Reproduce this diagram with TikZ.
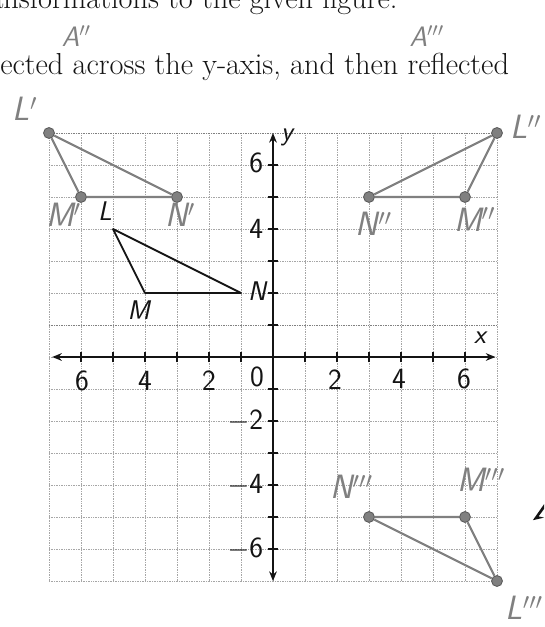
\documentclass[tikz,border=0pt]{standalone}
\usepackage{fontspec}
\usepackage{tikz}
\usetikzlibrary{arrows.meta}
\definecolor{Pencil}{HTML}{808080}
\definecolor{PencilDark}{HTML}{5C5C5C}
\definecolor{GridGrey}{HTML}{A6A6A6}
\definecolor{InkBlack}{HTML}{141414}

\begin{document}
\begin{tikzpicture}[
    gridline/.style={draw=GridGrey,line width=0.5pt,densely dotted},
    axis/.style={draw=InkBlack,line width=1.4pt,{Stealth[length=3mm,width=2.4mm]}-{Stealth[length=3mm,width=2.4mm]}},
    tickmark/.style={draw=InkBlack,line width=1.2pt},
    tri/.style={draw=InkBlack,line width=1.6pt,line join=round},
    pencil/.style={draw=Pencil,line width=1.9pt,line join=round},
    vdot/.style={circle,fill=Pencil,draw=PencilDark,line width=0.8pt,inner sep=0pt,minimum size=3.4mm},
    hand/.style={font=\fontsize{30}{30}\selectfont\sffamily\itshape,color=Pencil,inner sep=0pt},
    handsmall/.style={hand,font=\fontsize{25}{25}\selectfont\sffamily\itshape},
    handdark/.style={hand,color=InkBlack,font=\fontsize{24}{24}\selectfont\sffamily\itshape},
    ticklbl/.style={font=\fontsize{26}{26}\selectfont\sffamily,color=InkBlack,inner sep=0pt},
    print/.style={font=\fontsize{27}{32}\selectfont,color=InkBlack,inner sep=0pt}]
  \useasboundingbox (-8.531,-8.4375) rectangle (8.469,11.156);
  \clip (-8.531,-8.4375) rectangle (8.469,11.156);

  \node[print,anchor=base east] (line1) at (3.9,10.89) {ansformations to the given figure.};
  \node[print,anchor=base west] (line2) at (-8.53,8.84) {ected across the y-axis, and then reflected};
  \node[handsmall] (lA2) at (-6.15,10.02) {A$''$};
  \node[handsmall] (lA3) at (4.8,10.02) {A$'''$};

  \draw[gridline] (-7,-7) grid (7,7);
  \draw[gridline,draw=gray] (-7,1) -- (7,1);
  \draw[gridline,draw=gray] (-7,7) -- (7,7);

  \coordinate (xl) at (-6.9,0);
  \coordinate (xr) at (6.95,0);
  \coordinate (yb) at (0,-7);
  \coordinate (yt) at (0,7);
  \draw[axis] (xl) -- (xr);
  \draw[axis] (yb) -- (yt);
  \foreach \t in {-6,...,-1,1,2,...,6} {
    \draw[tickmark] (\t,-0.17) -- (\t,0.17);
    \draw[tickmark] (-0.17,\t) -- (0.17,\t);
  }
  \node[ticklbl] (xm6) at (-5.97,-0.74) {6};
  \node[ticklbl] (xm4) at (-4,-0.74) {4};
  \node[ticklbl] (xm2) at (-2,-0.74) {2};
  \node[ticklbl] (x0)  at (-0.5,-0.62) {0};
  \node[ticklbl] (xp2) at (1.94,-0.7) {2};
  \node[ticklbl] (xp4) at (3.94,-0.7) {4};
  \node[ticklbl] (xp6) at (5.97,-0.7) {6};
  \node[ticklbl,anchor=east] (yp6) at (-0.3,6.05) {6};
  \node[ticklbl,anchor=east] (yp4) at (-0.3,4.0) {4};
  \node[ticklbl,anchor=east] (ym2) at (-0.3,-2.0) {$-$2};
  \node[ticklbl,anchor=east] (ym4) at (-0.3,-4.0) {$-$4};
  \node[ticklbl,anchor=east] (ym6) at (-0.3,-6.0) {$-$6};
  \node[handdark] (xlbl) at (6.47,0.6) {x};
  \node[handdark] (ylbl) at (0.44,6.87) {y};

  \coordinate (L) at (-5,4);
  \coordinate (M) at (-4,2);
  \coordinate (N) at (-1,2);
  \draw[tri] (L) -- (M) -- (N) -- cycle;
  \node[handdark] (lL) at (-5.25,4.55) {L};
  \node[handdark] (lM) at (-4.2,1.45) {M};
  \node[handdark] (lN) at (-0.5,2.05) {N};

  \node[vdot] (L1) at (-7,7) {};
  \node[vdot] (M1) at (-6,5) {};
  \node[vdot] (N1) at (-3,5) {};
  \draw[pencil] (L1) -- (M1) -- (N1) -- (L1);
  \node[hand] (lL1) at (-7.75,7.75) {L$'$};
  \node[hand] (lM1) at (-6.55,4.45) {M$'$};
  \node[hand] (lN1) at (-2.9,4.45) {N$'$};

  \node[vdot] (L2) at (7,7) {};
  \node[vdot] (M2) at (6,5) {};
  \node[vdot] (N2) at (3,5) {};
  \draw[pencil] (L2) -- (M2) -- (N2) -- (L2);
  \node[hand] (lL2) at (7.9,7.2) {L$''$};
  \node[hand] (lM2) at (6.3,4.3) {M$''$};
  \node[hand] (lN2) at (3.15,4.15) {N$''$};

  \node[vdot] (L3) at (7,-7) {};
  \node[vdot] (M3) at (6,-5) {};
  \node[vdot] (N3) at (3,-5) {};
  \draw[pencil] (L3) -- (M3) -- (N3) -- (L3);
  \node[hand] (lL3) at (7.85,-7.85) {L$'''$};
  \node[hand] (lM3) at (6.5,-3.85) {M$'''$};
  \node[hand] (lN3) at (2.45,-4.05) {N$'''$};

  \fill[InkBlack] (8.12,-5.1) -- (8.47,-4.6) -- (8.47,-4.75) -- (8.3,-4.98) -- (8.47,-5.02) -- cycle;
\end{tikzpicture}
\end{document}
